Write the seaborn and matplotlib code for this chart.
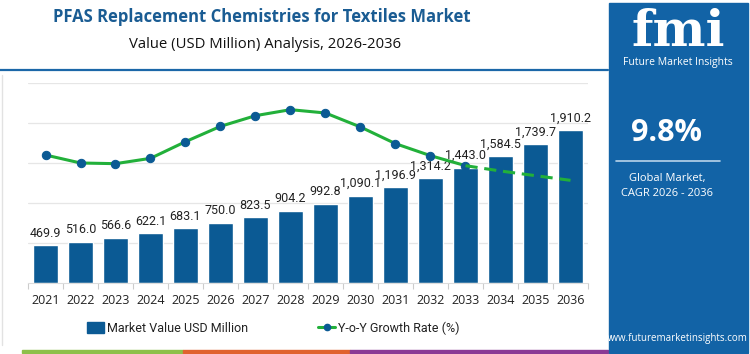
import matplotlib
matplotlib.use("Agg")
import matplotlib.pyplot as plt
import seaborn as sns
import pandas as pd
from matplotlib.patches import Rectangle, Patch
from matplotlib.lines import Line2D

years = ["2021", "2022", "2023", "2024", "2025", "2026", "2027", "2028",
         "2029", "2030", "2031", "2032", "2033", "2034", "2035", "2036"]
market_value = [469.9, 516.0, 566.6, 622.1, 683.1, 750.0, 823.5, 904.2,
                992.8, 1090.1, 1196.9, 1314.2, 1443.0, 1584.5, 1739.7, 1910.2]
yoy_growth = [9.92, 9.80, 9.79, 9.87, 10.12, 10.35, 10.51, 10.60,
              10.55, 10.34, 10.09, 9.91, 9.76, 9.68, 9.61, 9.54]
bar_labels = [f"{v:,.1f}" for v in market_value]
grid_values = [500, 1000, 1500, 2000, 2500]

BAR = "#0B5A94"
GREEN = "#22B03A"
PANEL = "#1263A6"
TITLE = "#1A5C93"
NARROW = ["Roboto", "DejaVu Sans"]

sns.set_style("white")
plt.rcParams["font.family"] = ["Open Sans", "DejaVu Sans"]

fig = plt.figure(figsize=(7.5, 3.54), dpi=100)
W, H = 750, 354
ax = fig.add_axes([28 / W, (H - 283) / H, 560 / W, 200 / H])

df = pd.DataFrame({"year": years, "value": market_value, "growth": yoy_growth,
                   "pos": range(len(years))})
sns.barplot(data=df, x="year", y="value", color=BAR, width=0.72, ax=ax,
            saturation=1, zorder=2)
ax.set_ylim(0, 2500)
ax.set_xlim(-0.5, len(years) - 0.5)
ax.grid(False)
for g in grid_values:
    ax.axhline(g, color="#E6E6E6", linewidth=0.9, zorder=0)
ax.yaxis.set_visible(False)
ax.set_xticks(range(len(years)), minor=False)
ax.set_xticks([i - 0.5 for i in range(len(years) + 1)], minor=True)
ax.tick_params(axis="x", which="major", length=0, labelsize=9, labelcolor="#222222",
               pad=8)
ax.tick_params(axis="x", which="minor", length=4, color="#CCCCCC", width=0.8,
               bottom=True)
ax.set_xlabel("")
for s in ["top", "right", "left"]:
    ax.spines[s].set_visible(False)
ax.spines["bottom"].set_color("#DDDDDD")
ax.spines["bottom"].set_linewidth(0.8)
for c in ax.containers:
    ax.bar_label(c, labels=bar_labels, padding=4, fontsize=9, color="#222222",
                 family=NARROW)

ax2 = ax.twinx()
solid = df[df["pos"] <= 12]
dashed = df[df["pos"] >= 12]
sns.lineplot(data=solid, x="pos", y="growth", ax=ax2, color=GREEN, linewidth=2.2,
             marker="o", markersize=6, markerfacecolor=BAR, markeredgecolor=BAR,
             zorder=5)
sns.lineplot(data=dashed, x="pos", y="growth", ax=ax2, color=GREEN, linewidth=2.2,
             linestyle=(0, (4, 2.2)), zorder=5)
ax2.set_ylim(8.0, 11.0)
ax2.set_xlim(-0.5, len(years) - 0.5)
ax2.axis("off")

# legend
handles = [Patch(facecolor=BAR, edgecolor=BAR),
           Line2D([0], [0], color=GREEN, lw=2.2, marker="o", markersize=4.5,
                  markerfacecolor=BAR, markeredgecolor=BAR)]
fig.legend(handles, ["Market Value USD Million", "Y-o-Y Growth Rate (%)"],
           loc="center", bbox_to_anchor=(0.364, 1 - 328 / H), ncol=2,
           frameon=False, columnspacing=5.6, handlelength=1.4,
           handleheight=0.9, handletextpad=0.2, labelcolor="#222222",
           prop={"family": NARROW, "size": 9})

# titles
fig.text(262 / W, 1 - 17 / H, "PFAS Replacement Chemistries for Textiles Market",
         ha="center", va="center", fontsize=12, fontweight="bold", color=TITLE)
fig.text(265 / W, 1 - 45 / H, "Value (USD Million) Analysis, 2026-2036",
         ha="center", va="center", fontsize=10.7, color="#111111")

# header rule
fig.add_artist(Line2D([0, 608 / W], [1 - 70 / H, 1 - 70 / H], color="#1B67A8",
                      lw=1.6, transform=fig.transFigure))
fig.add_artist(Line2D([1.5 / W, 1.5 / W], [1 - 75 / H, 1 - 345 / H], color="#E2E2E2",
                      lw=1, transform=fig.transFigure))

# bottom strip
for x0, x1, col in [(22, 183, "#8DC04A"), (183, 350, "#E0622E"), (350, 608, "#8A3A95")]:
    fig.add_artist(Rectangle((x0 / W, 1 - 353 / H), (x1 - x0) / W, 3.5 / H,
                             color=col, transform=fig.transFigure))

# right panel
fig.add_artist(Rectangle((609 / W, 1 - 353 / H), 139 / W, 350 / H, color=PANEL,
                         transform=fig.transFigure))
fig.text(678 / W, 1 - 33 / H, "fmi", ha="center", va="center", fontsize=36,
         fontweight="bold", color="white", family=["DejaVu Serif"])
fig.text(678 / W, 1 - 62 / H, "Future Market Insights", ha="center", va="center",
         fontsize=7.5, color="white")
fig.text(667 / W, 1 - 133 / H, "9.8%", ha="center", va="center", fontsize=22,
         fontweight="bold", color="white")
fig.add_artist(Line2D([616 / W, 720 / W], [1 - 161 / H, 1 - 161 / H], color="#B8D3EA",
                      lw=1.2, transform=fig.transFigure))
fig.text(667 / W, 1 - 178 / H, "Global Market,", ha="center", va="center",
         fontsize=8, color="white")
fig.text(667 / W, 1 - 193 / H, "CAGR 2026 - 2036", ha="center", va="center",
         fontsize=8, color="white")
fig.text(676 / W, 1 - 339 / H, "www.futuremarketinsights.com", ha="center",
         va="center", fontsize=7, color="white")

fig.savefig("out.png", dpi=100)
